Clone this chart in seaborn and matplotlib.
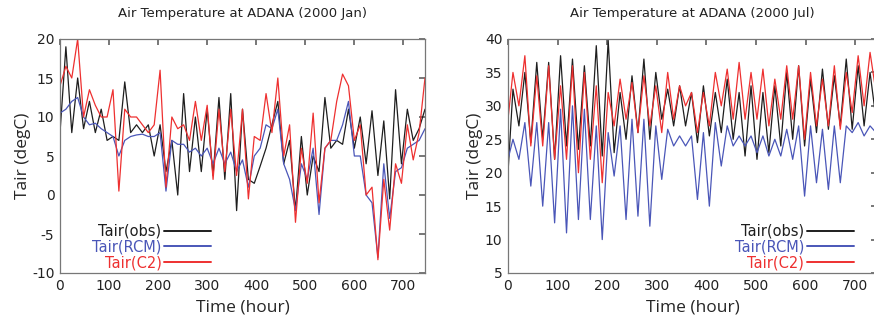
import numpy as np
import pandas as pd
import matplotlib
matplotlib.use("Agg")
import matplotlib.pyplot as plt
import seaborn as sns
from matplotlib.lines import Line2D

# Jan: values read every 12 hours (0..744)
jan_hours = np.arange(0, 745, 12)
jan_obs = [8, 19, 8, 15, 8.5, 12, 8, 11, 7, 7.5, 7, 14.5, 8, 9, 8, 9, 5, 9, 3, 7,
           0, 13, 3, 10, 3, 11, 2.5, 12.5, 2, 13, -2, 11, 2, 1.5, 3.7, 6, 9, 12, 4, 7,
           -2, 7.5, 0, 5, 3, 12.5, 6, 7, 6.5, 11, 6, 10, 4, 10.8, 2.5, 9.5, -0.5, 13.5,
           4, 11, 7, 8.5, 11]
jan_rcm = [10.5, 11, 12, 12.5, 10, 9, 9.2, 8.5, 8, 7.5, 5, 7, 7.5, 7.7, 7.8, 7.5, 7.5, 8,
           0.5, 7, 6.5, 6.5, 5.5, 6, 5, 6, 4, 6, 4, 5.5, 3, 4.5, 1, 5, 6, 9, 8.5, 11, 4, 2,
           -2, 4, 2, 6, -2.5, 6, 7, 7, 9, 12, 5, 5, 0, -1, -8, 4, -3, 3, 3.5, 6, 6.5, 7, 8.5]
jan_c2 = [14, 16.5, 15, 20, 10, 13.5, 11.5, 10, 10, 13.5, 0.5, 11, 10, 10, 9, 8, 9, 16, 1,
          10, 8.5, 9, 7, 12, 7, 11.5, 2, 11, 3, 11, 2.5, 11, -0.5, 7.5, 7, 13, 8, 15, 5, 9,
          -3.5, 6, 1.5, 10.5, -1, 6, 7, 12, 15.5, 14, 7, 9, 0, 1, -8.3, 2, -4.5, 4, 1.5, 9,
          4.5, 8, 15]

# Jul: start value, then daily afternoon peak / night trough
jul_hours = np.concatenate([[0], np.arange(10, 744, 12)])
jul_obs = [20, 32.5, 27, 35, 24.5, 36.5, 25, 36.5, 22, 37.5, 24, 37, 23.5, 36, 24, 39, 22.5,
           39.8, 23, 32, 25, 34.5, 26, 37, 25, 35, 28, 32.5, 27, 33, 27, 32, 24.5, 33, 25.5,
           32, 26, 34, 25, 32, 22.5, 33, 22, 32, 23, 33, 24, 35, 25, 36, 24, 34, 26, 35.5,
           26.5, 34.5, 27, 37, 26.5, 36, 27, 35, 28]
jul_rcm = [22, 25, 22, 27.5, 18, 27.5, 15, 27.5, 12.5, 29.5, 11, 30, 13, 29.5, 13, 27, 10,
           26, 19.5, 27, 13, 28, 13.5, 28, 12, 27, 19, 26.5, 24, 25.5, 24, 25.5, 16, 26, 15,
           27.5, 21, 27, 24, 25.5, 24, 25.5, 23, 25.5, 22.5, 25, 22.5, 26.5, 22, 27, 16.5,
           27, 18.5, 26.5, 17.5, 27, 18.5, 27, 26, 27.5, 25.5, 27, 26]
jul_c2 = [28, 35, 30, 37.5, 24, 34.5, 24, 36, 22, 33, 22, 36, 20, 35, 22, 33, 18.5, 32, 27,
          34, 28, 33.5, 26, 34.5, 27, 33, 26, 35, 28, 33, 30, 32, 26, 32, 27, 35, 30, 35.5,
          28, 36.5, 28, 35, 28, 35.5, 27, 34, 28, 36, 28, 36, 25, 35, 27, 34, 27, 36, 26.5,
          35, 29, 37.5, 30, 38, 32]

series_names = ["Tair(obs)", "Tair(RCM)", "Tair(C2)"]
colors = {"Tair(obs)": "#1e1e1e", "Tair(RCM)": "#4a56b8", "Tair(C2)": "#ee3030"}

sns.set_theme(style="white")
plt.rcParams["font.family"] = ["DejaVu Sans"]
plt.rcParams["axes.unicode_minus"] = False

fig = plt.figure(figsize=(8.74, 3.31), dpi=100)
ax1 = fig.add_axes([60 / 874, 58 / 331, 365 / 874, 234 / 331])
ax2 = fig.add_axes([508 / 874, 58 / 331, 369 / 874, 234 / 331])


def draw(ax, hours, vals, title, ylim, yticks, leg_anchor, leg_loc):
    df = pd.concat([pd.DataFrame({"Time": hours, "Tair": v, "Series": n})
                    for n, v in zip(series_names, vals)])
    sns.lineplot(data=df, x="Time", y="Tair", hue="Series", palette=colors,
                 linewidth=0.9, legend=False, ax=ax)
    ax.set_xlim(0, 744)
    ax.set_ylim(*ylim)
    ax.set_xticks(range(0, 701, 100))
    ax.set_yticks(yticks)
    ax.tick_params(direction="in", length=4, top=True, right=True, labelsize=10,
                   color="#666666", labelcolor="#222222", pad=4)
    for sp in ax.spines.values():
        sp.set_color("#777777")
        sp.set_linewidth(0.9)
    ax.set_title(title, fontsize=9.5, color="#222222", pad=16)
    ax.set_xlabel("Time (hour)", fontsize=12.5, family="Open Sans", labelpad=5)
    ax.set_ylabel("Tair (degC)", fontsize=12.5, family="Open Sans", labelpad=1)
    handles = [Line2D([], [], color=colors[n], lw=1.4) for n in series_names]
    ax.legend(handles, series_names, loc=leg_loc, bbox_to_anchor=leg_anchor,
              frameon=False, markerfirst=False, labelcolor="linecolor", fontsize=10.5,
              handlelength=3.2, handletextpad=0.2, labelspacing=0.05, borderpad=0.2,
              borderaxespad=0)


draw(ax1, jan_hours, [jan_obs, jan_rcm, jan_c2], "Air Temperature at ADANA (2000 Jan)",
     (-10, 20), range(-10, 21, 5), (0.08, 0.0), "lower left")
draw(ax2, jul_hours, [jul_obs, jul_rcm, jul_c2], "Air Temperature at ADANA (2000 Jul)",
     (5, 40), range(5, 41, 5), (0.945, 0.0), "lower right")

fig.savefig("out.png", dpi=100)
